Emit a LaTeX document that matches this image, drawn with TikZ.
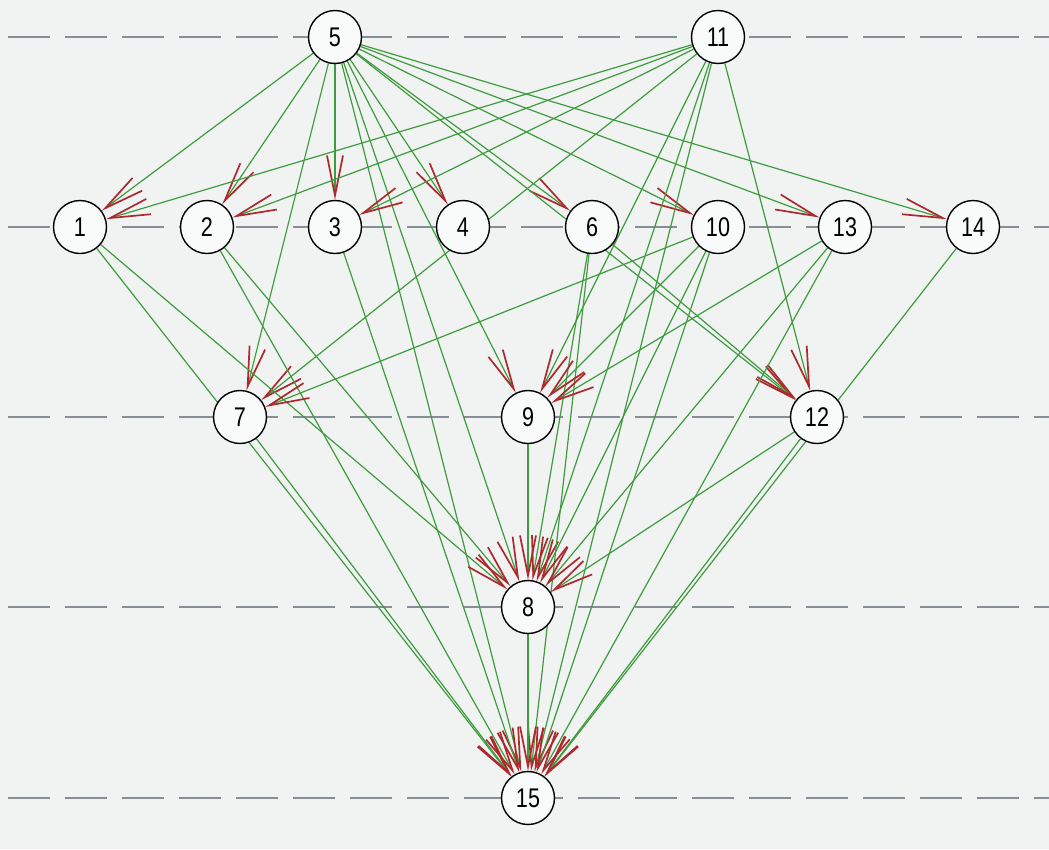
\documentclass[tikz,border=0pt]{standalone}
\usepackage{fontspec}
\setmainfont{Liberation Sans}
\newfontfamily\vtxfont[FakeStretch=0.8]{Liberation Sans}
\usetikzlibrary{arrows.meta}
\definecolor{bgc}{RGB}{241,242,242}
\definecolor{edgegreen}{RGB}{62,156,62}
\definecolor{tipred}{RGB}{172,42,46}
\definecolor{guide}{RGB}{135,142,150}
\pgfdeclarelayer{bg}
\pgfsetlayers{bg,main}
\begin{document}
\begin{tikzpicture}[x=1pt,y=-1pt,
  vtx/.style={circle, draw=black, line width=1.4pt, fill=bgc!40!white, minimum size=53pt, inner sep=0pt, font=\vtxfont\fontsize{27}{27}\selectfont},
  edge/.style={draw=edgegreen, line width=1.2pt, -{Straight Barb[length=40pt,width=16pt,line width=1.7pt,color=tipred]}},
  guideline/.style={draw=guide, line width=2pt, dash pattern=on 42pt off 15pt, dash phase=49pt}]
\useasboundingbox (0,0) rectangle (1049,849);
% nodes
\node[vtx] (n5)  at (335,37)  {5};
\node[vtx] (n11) at (718,37)  {11};
\node[vtx] (n1)  at (80,227)  {1};
\node[vtx] (n2)  at (207,227) {2};
\node[vtx] (n3)  at (335,227) {3};
\node[vtx] (n4)  at (463,227) {4};
\node[vtx] (n6)  at (592,227) {6};
\node[vtx] (n10) at (718,227) {10};
\node[vtx] (n13) at (845,227) {13};
\node[vtx] (n14) at (973,227) {14};
\node[vtx] (n7)  at (240,417) {7};
\node[vtx] (n9)  at (528,417) {9};
\node[vtx] (n12) at (817,417) {12};
\node[vtx] (n8)  at (528,607) {8};
\node[vtx] (n15) at (528,798) {15};
\begin{pgfonlayer}{bg}
  \fill[bgc] (0,0) rectangle (1049,849);
  \foreach \yy in {37,227,417,607,798}
    \draw[guideline] (0,\yy) -- (1049,\yy);
  \foreach \a/\b in {5/1,5/2,5/3,5/4,5/6,5/10,5/13,5/14,5/7,5/9,5/12,5/8,5/15,
                     11/1,11/2,11/3,11/7,11/9,11/12,11/8,11/15,
                     1/8,1/15,2/8,2/15,3/15,6/8,6/15,6/12,
                     10/7,10/9,10/8,10/15,13/9,13/8,13/15,14/15,
                     7/15,9/8,12/8,12/15,8/15}
    \draw[edge] (n\a) -- (n\b);
\end{pgfonlayer}
\end{tikzpicture}
\end{document}
